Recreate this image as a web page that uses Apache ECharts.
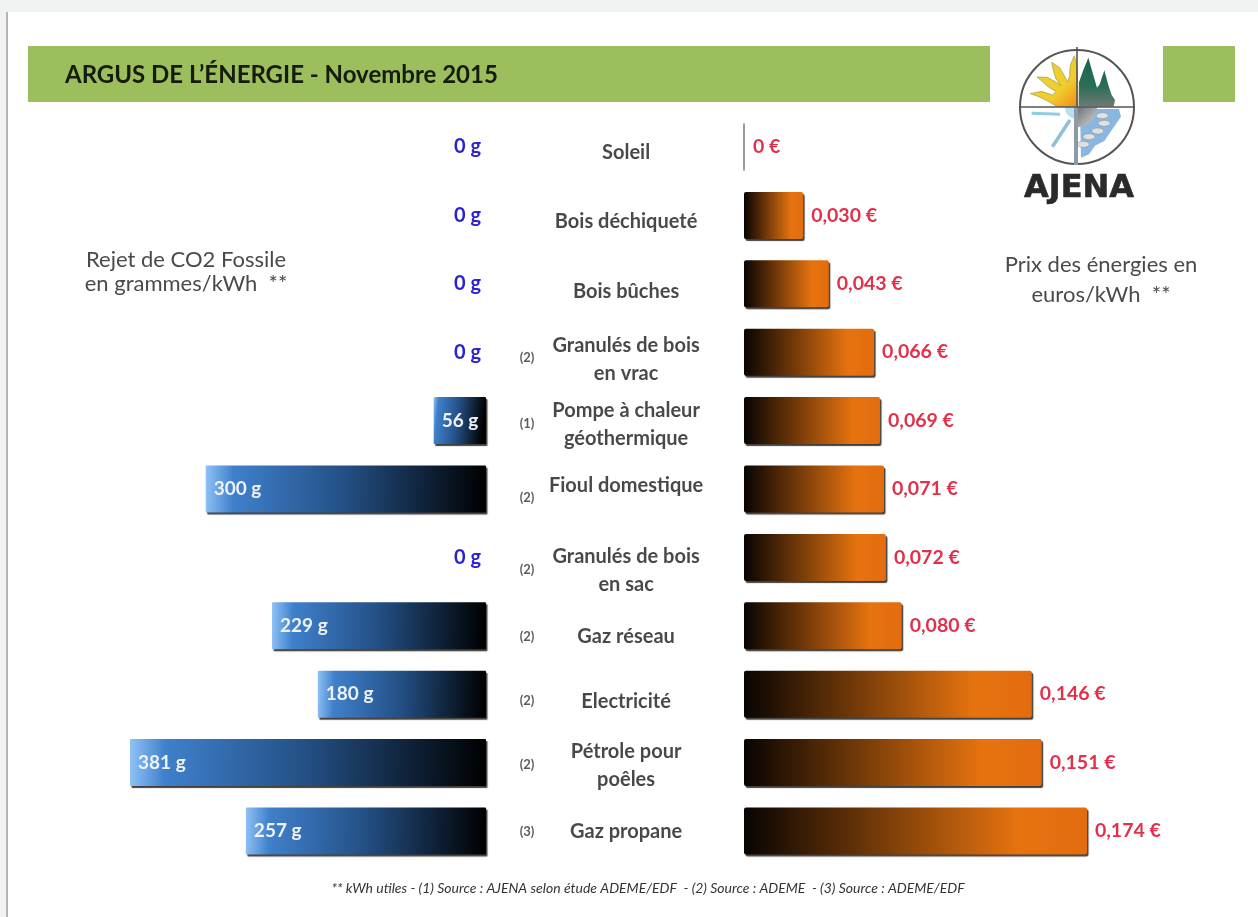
<!DOCTYPE html>
<html>
<head>
<meta charset="utf-8">
<title>Argus de l'énergie</title>
<script src="https://cdn.jsdelivr.net/npm/echarts@6/dist/echarts.min.js"></script>
<style>
  html, body { margin: 0; padding: 0; background: #f1f3f3; }
  #chart { width: 1258px; height: 917px; }
</style>
</head>
<body>
<div id="chart"></div>
<script>
// data
const categories = ["Soleil", "Bois déchiqueté", "Bois bûches", "Granulés de bois\nen vrac", "Pompe à chaleur\ngéothermique", "Fioul domestique", "Granulés de bois\nen sac", "Gaz réseau", "Electricité", "Pétrole pour\npoêles", "Gaz propane"];
const sources = ["", "", "", "(2)", "(1)", "(2)", "(2)", "(2)", "(2)", "(2)", "(3)"];
const co2Values = [0, 0, 0, 0, 56, 300, 0, 229, 180, 381, 257];
const priceValues = [0, 0.030, 0.043, 0.066, 0.069, 0.071, 0.072, 0.080, 0.146, 0.151, 0.174];

const FONT = "Lato";
const linear = (x2, y2, stops) => ({
  type: "linear", x: 0, y: 0, x2: x2, y2: y2,
  colorStops: stops.map(s => ({ offset: s[0], color: s[1] }))
});
const blueFill = linear(1, 0.12, [[0, "#8fc2f6"], [0.1, "#3f80cb"], [0.5, "#234f84"], [1, "#000000"]]);
const orangeFill = linear(1, 0, [[0, "#080402"], [0.8, "#e6730f"], [1, "#e36c10"]]);
const barShadow = { shadowColor: "rgba(20,15,10,0.8)", shadowBlur: 1, shadowOffsetX: 1.5, shadowOffsetY: 2 };

// the centre captions do not sit exactly on the row centre in the original
const nameNudge = [6, 6, 8, 7, 4, -3, 13, 11, 7, 3, 1];
const sourceNudge = [0, 0, 0, 6, 3, 9, 12, 11, 7, 2, 1];

function hiddenCategoryAxis(gridIndex) {
  return { type: "category", gridIndex: gridIndex, data: categories, inverse: true, show: false };
}

// logo, traced at 3x from the corner of the page
const lp = (x, y) => [1015 + x / 3, 45 + y / 3];
const lpts = list => list.map(p => lp(p[0], p[1]));
const logoC = lp(186, 186);

const sunPts = [[188, 185], [125, 184], [98, 168], [72, 155], [46, 146], [80, 139], [112, 150], [124, 140], [102, 127], [85, 112], [66, 96], [97, 97], [124, 112], [138, 122], [122, 100], [115, 75], [110, 52], [134, 68], [148, 92], [158, 112], [164, 92], [166, 60], [178, 32], [187, 70], [188, 110]];
const treePts = [[191, 185], [192, 112], [205, 75], [220, 38], [232, 80], [246, 128], [254, 118], [268, 76], [280, 120], [290, 150], [300, 165], [296, 185]];
const waterPts = [[195, 192], [312, 192], [318, 215], [294, 250], [268, 288], [240, 302], [222, 328], [198, 338]];
const petals = [[262, 212], [268, 235], [248, 258], [222, 275], [205, 298]];

const logo = [
  { type: "circle", shape: { cx: logoC[0], cy: logoC[1], r: 57 }, style: { fill: "#fff", stroke: "#555", lineWidth: 2 }, z: 3 },
  { type: "polygon", shape: { points: lpts(waterPts) }, style: { fill: "#8ab6e2" }, z: 4 },
  { type: "sector", shape: { cx: logoC[0], cy: logoC[1], r: 20, startAngle: 0, endAngle: Math.PI / 2 }, style: { fill: linear(1, 1, [[0, "#6f7274"], [1, "#d4d6d8"]]) }, z: 5 }
].concat(petals.map(p => (
  { type: "ellipse", shape: { cx: lp(p[0], p[1])[0], cy: lp(p[0], p[1])[1], rx: 6, ry: 3 }, style: { fill: "#dfe0e0", stroke: "#888", lineWidth: 0.5 }, z: 5 }
)), [
  { type: "polygon", shape: { points: lpts(sunPts) }, style: { fill: linear(1, 1, [[0, "#e4d442"], [0.65, "#f2cc2c"], [1, "#f08a1c"]]), stroke: "#a8a540", lineWidth: 0.8 }, z: 4 },
  { type: "polygon", shape: { points: lpts(treePts) }, style: { fill: linear(0, 1, [[0, "#16664a"], [0.6, "#2c6e58"], [1, "#6f7a76"]]) }, z: 4 },
  { type: "line", shape: { x1: lp(50, 205)[0], y1: lp(50, 205)[1], x2: lp(135, 208)[0], y2: lp(135, 208)[1] }, style: { stroke: "#8fcbe4", lineWidth: 3 }, z: 4 },
  { type: "line", shape: { x1: lp(112, 305)[0], y1: lp(112, 305)[1], x2: lp(165, 225)[0], y2: lp(165, 225)[1] }, style: { stroke: "#8fc0d8", lineWidth: 3.5 }, z: 4 },
  { type: "sector", shape: { cx: logoC[0], cy: logoC[1], r: 12, startAngle: Math.PI / 2, endAngle: Math.PI }, style: { fill: "#b9dff2" }, z: 4 },
  { type: "line", shape: { x1: logoC[0], y1: logoC[1] - 60, x2: logoC[0], y2: logoC[1] + 2 }, style: { stroke: "#555", lineWidth: 1.6 }, z: 6 },
  { type: "line", shape: { x1: logoC[0] - 1, y1: logoC[1], x2: logoC[0] - 1, y2: logoC[1] + 58 }, style: { stroke: "#8a9ba6", lineWidth: 4 }, z: 6 },
  { type: "line", shape: { x1: logoC[0] - 58, y1: logoC[1], x2: logoC[0] + 58, y2: logoC[1] }, style: { stroke: "#555", lineWidth: 1.6 }, z: 6 },
  { type: "text", x: 1079, y: 189, style: { text: "AJENA", font: "bold 32px 'DejaVu Sans'", fill: "#2a2a2a", textAlign: "center", textVerticalAlign: "middle", stroke: "#2a2a2a", lineWidth: 0.6 }, z: 6 }
]);

const sideText = (text, x, y, lineHeight) => ({
  type: "text", x: x, y: y, z: 6,
  style: { text: text, font: "22px " + FONT, fill: "#4a4a4a", textAlign: "center", textVerticalAlign: "middle", lineHeight: lineHeight }
});

const chart = echarts.init(document.getElementById("chart"));

chart.setOption({
  animation: false,
  backgroundColor: "#f1f3f3",
  title: {
    text: "ARGUS DE L’ÉNERGIE - Novembre 2015",
    left: 60, top: 58, z: 10,
    textStyle: { fontFamily: FONT, fontWeight: "bold", fontSize: 24, color: "#151b0d" }
  },
  graphic: [
    { type: "rect", shape: { x: 6, y: 12, width: 2, height: 905 }, style: { fill: "#b4b4b4" }, z: 0 },
    { type: "rect", shape: { x: 8, y: 12, width: 1250, height: 905 }, style: { fill: "#ffffff" }, z: 1 },
    { type: "rect", shape: { x: 28, y: 46, width: 962, height: 56 }, style: { fill: "#9dbe5c" }, z: 2 },
    { type: "rect", shape: { x: 1163, y: 46, width: 72, height: 56 }, style: { fill: "#9dbe5c" }, z: 2 },
    sideText("Rejet de CO2 Fossile\nen grammes/kWh  **", 186, 272, 24),
    sideText("Prix des énergies en\neuros/kWh  **", 1101, 280, 30),
    { type: "text", x: 648, y: 888, z: 6, style: { text: "** kWh utiles - (1) Source : AJENA selon étude ADEME/EDF  - (2) Source : ADEME  - (3) Source : ADEME/EDF", font: "italic 14px " + FONT, fill: "#333", textAlign: "center", textVerticalAlign: "middle" } }
  ].concat(logo),
  grid: [
    { left: 130, width: 356, top: 112.8, height: 752.4 },
    { left: 744, width: 343, top: 112.8, height: 752.4 },
    { left: 486, width: 258, top: 112.8, height: 752.4 }
  ],
  xAxis: [
    { type: "value", gridIndex: 0, inverse: true, min: 0, max: 381, show: false },
    { type: "value", gridIndex: 1, min: 0, max: 0.174, show: false },
    { type: "value", gridIndex: 2, min: 0, max: 1, show: false }
  ],
  yAxis: [hiddenCategoryAxis(0), hiddenCategoryAxis(1), hiddenCategoryAxis(2)],
  series: [
    {
      name: "Rejet de CO2 Fossile",
      type: "bar", xAxisIndex: 0, yAxisIndex: 0, barWidth: 47,
      itemStyle: Object.assign({ color: blueFill, borderRadius: 1 }, barShadow),
      data: co2Values.map(v => ({
        value: v,
        label: v === 0
          ? { show: true, position: "left", distance: 5, color: "#2b22d2", formatter: "{c} g", fontSize: 20, fontWeight: "bold", fontFamily: FONT }
          : { show: true, position: "insideLeft", distance: 8, color: "#eef2f8", formatter: "{c} g", fontSize: 19, fontWeight: "bold", fontFamily: FONT }
      }))
    },
    {
      name: "Prix des énergies",
      type: "bar", xAxisIndex: 1, yAxisIndex: 1, barWidth: 47,
      itemStyle: Object.assign({ color: orangeFill, borderRadius: 2 }, barShadow),
      label: {
        show: true, position: "right", distance: 8, color: "#e2304a",
        fontSize: 19.5, fontWeight: "bold", fontFamily: FONT,
        formatter: p => p.value === 0 ? "0 €" : p.value.toFixed(3).replace(".", ",") + " €"
      },
      data: priceValues.map(v => v === 0
        ? { value: v, itemStyle: { borderColor: "#9a9a9a", borderWidth: 2, shadowColor: "transparent" } }
        : v)
    },
    {
      name: "Energie",
      type: "scatter", xAxisIndex: 2, yAxisIndex: 2, symbolSize: 1,
      itemStyle: { color: "transparent" },
      label: {
        show: true, position: "inside", color: "#1a1a1a", fontSize: 20, fontWeight: "bold",
        fontFamily: FONT, lineHeight: 28, align: "center", formatter: p => p.name
      },
      data: categories.map((c, i) => ({ name: c, value: [0.543, i], label: { offset: [0, nameNudge[i]] } }))
    },
    {
      name: "Source",
      type: "scatter", xAxisIndex: 2, yAxisIndex: 2, symbolSize: 1,
      itemStyle: { color: "transparent" },
      label: {
        show: true, position: "inside", color: "#333", fontSize: 13, fontWeight: "bold",
        fontFamily: FONT, formatter: p => p.name
      },
      data: sources.map((s, i) => ({ name: s, value: [0.159, i], label: { offset: [0, sourceNudge[i]] } }))
    }
  ]
});
</script>
</body>
</html>
